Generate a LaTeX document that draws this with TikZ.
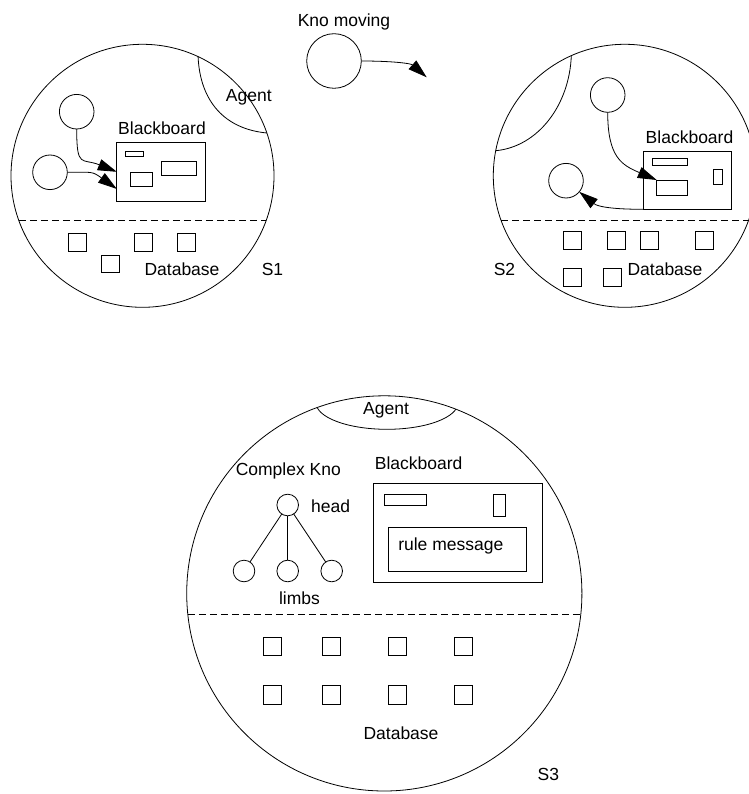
\documentclass[tikz,border=0pt]{standalone}
\usepackage{fontspec}
\setmainfont{Liberation Sans}
\usetikzlibrary{arrows.meta}
\begin{document}
\begin{tikzpicture}[x=1pt,y=-1pt,line width=0.8pt,
  every node/.style={inner sep=0pt,outer sep=0pt},
  lbl/.style={font=\fontsize{17.5}{20}\selectfont,text height=12.5pt,text depth=0pt},
  site/.style={circle,draw,minimum size=263pt},
  kno/.style={circle,draw,minimum size=34.6pt},
  part/.style={circle,draw,minimum size=21.6pt},
  dbsq/.style={draw,minimum size=17.8pt},
  flow/.style={-{Triangle[length=19pt,width=11.5pt]}},
  split/.style={dash pattern=on 7pt off 4pt}]
\useasboundingbox (0,0) rectangle (748,794);

% ---------- S1 ----------
\node[site] (s1) at (142.5,175.8) {};
\draw (s1.65) .. controls +(2,45) and +(-42,-4) .. (s1.19);
\node[lbl] (ag1) at (248.8,95) {Agent};
\node[kno] (a1) at (76.7,111.7) {};
\node[kno] (a2) at (50,172.3) {};
\node[lbl] (bt1) at (162,128.3) {Blackboard};
\node[draw,minimum width=88.4pt,minimum height=58.3pt] (bb1) at (161,171.8) {};
\node[draw,minimum width=17.6pt,minimum height=5.7pt] (m11) at (134.5,153.8) {};
\node[draw,minimum width=35pt,minimum height=14pt] (m12) at (178.5,168) {};
\node[draw,minimum width=22.3pt,minimum height=14.7pt] (m13) at (141.2,179.3) {};
\draw[flow] (a1.south) .. controls +(0,40) and +(-35,-14) .. (bb1.west);
\draw[flow] (a2.east) .. controls +(25,0) and +(-25,-18) .. ([yshift=12pt]bb1.south west);
\draw[split] (s1.200) -- (s1.-20);
\node[dbsq] (d11) at (77.2,242) {};
\node[dbsq] (d12) at (143.3,242) {};
\node[dbsq] (d13) at (186.2,242) {};
\node[dbsq] (d14) at (110.3,263.8) {};
\node[lbl] (db1) at (182,269.3) {Database};
\node[lbl] (n1) at (272.5,269.3) {S1};

% ---------- moving ----------
\node[lbl] (mvt) at (344,20) {Kno moving};
\node[circle,draw,minimum size=54.6pt] (mv) at (334,61) {};
\coordinate (mvend) at (426.7,77.3);
\draw[flow] (mv.east) .. controls +(30,0) and +(-16,-14) .. (mvend);

% ---------- S2 ----------
\node[site] (s2) at (624.8,175.8) {};
\draw (s2.114) .. controls +(-2,50) and +(42,-4) .. (s2.169);
\node[kno] (b1) at (607.7,95) {};
\node[kno] (b2) at (566,180.7) {};
\node[lbl] (bt2) at (689.5,137.7) {Blackboard};
\node[draw,minimum width=88.4pt,minimum height=57.6pt] (bb2) at (687.5,180.5) {};
\node[draw,minimum width=35.4pt,minimum height=7pt] (m21) at (670,162.2) {};
\node[draw,minimum width=31pt,minimum height=15pt] (m22) at (672.2,187.5) {};
\node[draw,minimum width=9pt,minimum height=14.7pt] (m23) at (717.8,176.7) {};
\draw[flow] (b1.south) .. controls +(0,45) and +(-35,-15) .. (m22.north west);
\draw[flow] (bb2.south west) .. controls +(-45,0) and +(15,12) .. (b2.-40);
\draw[split] (s2.200) -- (s2.-20);
\node[dbsq] (d21) at (572,240.3) {};
\node[dbsq] (d22) at (616.5,240.3) {};
\node[dbsq] (d23) at (649.5,240.3) {};
\node[dbsq] (d24) at (704.5,240.3) {};
\node[dbsq] (d25) at (572,277) {};
\node[dbsq] (d26) at (612,277) {};
\node[lbl] (db2) at (665,269) {Database};
\node[lbl] (n2) at (504.5,269) {S2};

% ---------- S3 ----------
\node[site,minimum size=395.2pt] (s3) at (384.3,593.4) {};
\begin{scope}
  \clip (384.3,593.4) circle (197.6);
  \draw (387,402.7) ellipse (71 and 26.6);
\end{scope}
\node[lbl] (ag3) at (386,408.3) {Agent};
\node[lbl] (ck) at (288.3,469.3) {Complex Kno};
\node[part] (hd) at (287.7,505) {};
\node[part] (l1) at (244,571) {};
\node[part] (l2) at (287.7,571) {};
\node[part] (l3) at (331.7,571) {};
\draw (hd) -- (l1);
\draw (hd) -- (l2);
\draw (hd) -- (l3);
\node[lbl] (hdt) at (330.7,506.7) {head};
\node[lbl] (lt) at (299.5,598.3) {limbs};
\node[lbl] (bt3) at (418.7,463.3) {Blackboard};
\node[draw,minimum width=169pt,minimum height=98.7pt] (bb3) at (457.8,532.7) {};
\node[draw,minimum width=42.7pt,minimum height=11pt] (m31) at (405.3,500.2) {};
\node[draw,minimum width=11.7pt,minimum height=22.3pt] (m32) at (499.2,505.5) {};
\node[draw,minimum width=138pt,minimum height=44pt] (rm) at (457.7,549.3) {};
\node[lbl] (rmt) at (450.8,544) {rule message};
\draw[split] (s3.186) -- (s3.-6);
\node[dbsq,minimum size=18.3pt] (e1) at (272.5,646.5) {};
\node[dbsq,minimum size=18.3pt] (e2) at (331.7,646.5) {};
\node[dbsq,minimum size=18.3pt] (e3) at (397.5,646.5) {};
\node[dbsq,minimum size=18.3pt] (e4) at (463.5,646.5) {};
\node[dbsq,minimum size=18.3pt] (e5) at (272.5,695) {};
\node[dbsq,minimum size=18.3pt] (e6) at (331.7,695) {};
\node[dbsq,minimum size=18.3pt] (e7) at (397.5,695) {};
\node[dbsq,minimum size=18.3pt] (e8) at (463.5,695) {};
\node[lbl] (db3) at (401,733.3) {Database};
\node[lbl] (n3) at (548.3,774) {S3};
\end{tikzpicture}
\end{document}
